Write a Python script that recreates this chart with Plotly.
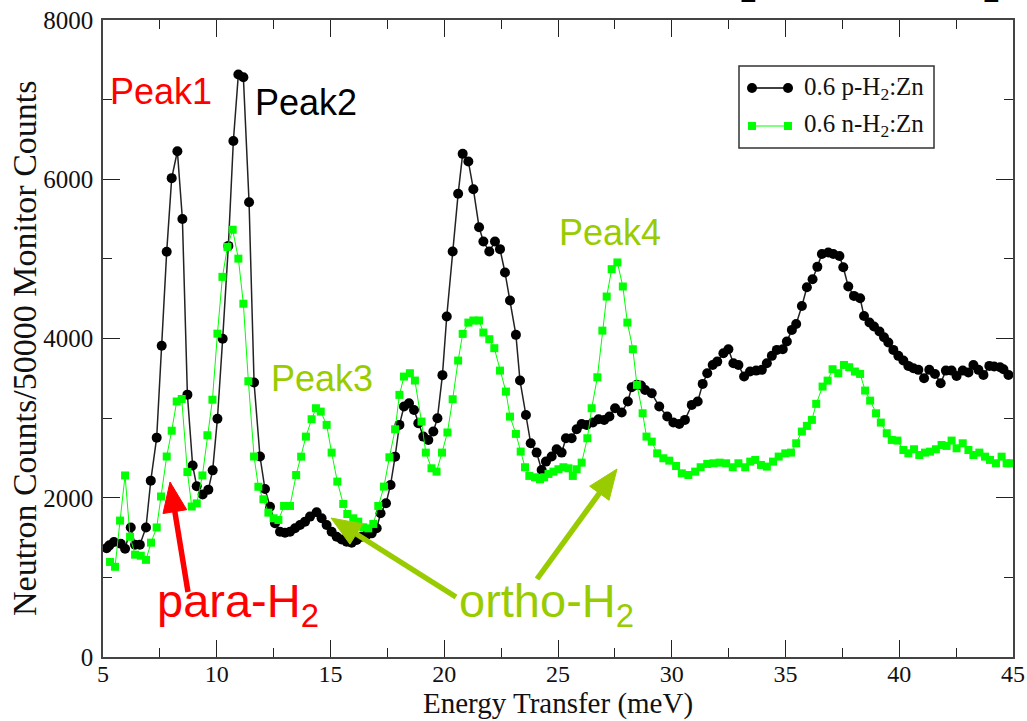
import math
import plotly.graph_objects as go

# Energy transfer (meV) and counts for 0.6 p-H2:Zn
para_energy = [5.16, 5.28, 5.48, 5.78, 5.97, 6.22, 6.41, 6.62, 6.89, 7.10, 7.36, 7.58, 7.80, 8.02,
               8.27, 8.49, 8.71, 8.94, 9.12, 9.38, 9.63, 9.82, 10.03, 10.26, 10.51, 10.73, 10.95,
               11.17, 11.42, 11.64, 11.90, 12.12, 12.34, 12.56, 12.78, 13.00, 13.22, 13.44, 13.66,
               13.88, 14.10, 14.39, 14.61, 14.83, 15.05, 15.27, 15.49, 15.71, 15.93, 16.15, 16.37,
               16.59, 16.81, 17.03, 17.20, 17.44, 17.64, 17.84, 18.03, 18.23, 18.45, 18.67, 18.86,
               19.08, 19.30, 19.52, 19.70, 19.92, 20.11, 20.37, 20.61, 20.81, 21.06, 21.28, 21.53,
               21.72, 21.98, 22.23, 22.45, 22.67, 22.89, 23.15, 23.33, 23.59, 23.80, 24.06, 24.28,
               24.47, 24.72, 24.94, 25.16, 25.35, 25.60, 25.82, 26.04, 26.26, 26.53, 26.78, 27.03,
               27.26, 27.51, 27.80, 28.07, 28.24, 28.46, 28.65, 28.83, 29.12, 29.45, 29.80, 30.07,
               30.33, 30.58, 30.88, 31.14, 31.36, 31.56, 31.80, 32.00, 32.27, 32.49, 32.71, 32.93,
               33.18, 33.44, 33.71, 33.96, 34.18, 34.40, 34.62, 34.88, 35.06, 35.28, 35.47, 35.72,
               35.94, 36.19, 36.40, 36.60, 36.88, 37.10, 37.37, 37.54, 37.76, 38.01, 38.28, 38.45,
               38.69, 38.89, 39.13, 39.33, 39.52, 39.74, 39.96, 40.18, 40.40, 40.62, 40.84, 41.09,
               41.32, 41.57, 41.82, 42.05, 42.30, 42.52, 42.79, 43.04, 43.26, 43.48, 43.70, 43.96,
               44.17, 44.43, 44.58, 44.80]
para_counts = [1367, 1402, 1445, 1423, 1359, 1627, 1410, 1410, 1627, 2215, 2755, 3909, 5089, 6014,
               6352, 5500, 3295, 2405, 2145, 2042, 2102, 2344, 2993, 3996, 5163, 6481, 7316,
               7281, 5712, 3447, 2518, 2110, 1888, 1679, 1574, 1562, 1574, 1616, 1658,
               1700, 1763, 1817, 1742, 1658, 1574, 1511, 1477, 1448, 1436, 1469, 1511,
               1532, 1553, 1616, 1805, 1930, 2161, 2516, 2915, 3145, 3187, 3103, 2936,
               2768, 2726, 2831, 2999, 3540, 4276, 5092, 5817, 6319, 6223, 5875, 5398,
               5218, 5092, 5218, 5122, 4829, 4477, 4046, 3472, 3040, 2684, 2567, 2349,
               2454, 2517, 2609, 2567, 2747, 2747, 2860, 2927, 2915, 2944, 2986, 2978,
               3020, 3124, 3070, 3208, 3388, 3420, 3410, 3354, 3312, 3145, 3020, 2944,
               2927, 2978, 3166, 3208, 3430, 3564, 3668, 3710, 3815, 3865, 3689, 3668,
               3522, 3585, 3597, 3606, 3689, 3782, 3857, 3865, 3962, 4108, 4183, 4409,
               4644, 4745, 4900, 5062, 5079, 5062, 5037, 4895, 4652, 4535, 4505, 4283,
               4200, 4150, 4087, 4015, 3949, 3857, 3782, 3723, 3656, 3627, 3606, 3501,
               3606, 3555, 3438, 3597, 3597, 3530, 3597, 3572, 3668, 3606, 3543, 3656,
               3648, 3639, 3614, 3543]

# Energy transfer (meV) and counts for 0.6 n-H2:Zn
normal_energy = [5.31, 5.53, 5.75, 5.97, 6.19, 6.41, 6.66, 6.89, 7.11, 7.36, 7.55, 7.80, 8.02, 8.24,
                 8.46, 8.71, 8.90, 9.12, 9.37, 9.59, 9.81, 10.03, 10.25, 10.47, 10.70, 10.95, 11.17,
                 11.39, 11.64, 11.83, 12.05, 12.27, 12.50, 12.71, 12.96, 13.22, 13.49, 13.71, 13.92,
                 14.17, 14.36, 14.57, 14.83, 15.05, 15.30, 15.56, 15.74, 16.00, 16.22, 16.44, 16.66,
                 16.88, 17.10, 17.35, 17.59, 17.84, 18.03, 18.23, 18.49, 18.71, 19.00, 19.19, 19.44,
                 19.66, 19.90, 20.14, 20.37, 20.61, 20.81, 21.06, 21.28, 21.53, 21.72, 21.98, 22.20,
                 22.45, 22.71, 22.89, 23.15, 23.36, 23.55, 23.74, 23.99, 24.21, 24.39, 24.58, 24.80,
                 25.02, 25.24, 25.46, 25.65, 25.82, 26.04, 26.29, 26.48, 26.73, 26.95, 27.14, 27.36,
                 27.61, 27.85, 28.05, 28.29, 28.47, 28.72, 28.89, 29.12, 29.36, 29.63, 29.89, 30.19,
                 30.44, 30.73, 31.03, 31.27, 31.56, 31.83, 32.10, 32.39, 32.68, 32.93, 33.23, 33.45,
                 33.67, 33.92, 34.18, 34.45, 34.70, 34.99, 35.24, 35.47, 35.72, 35.94, 36.16, 36.35,
                 36.63, 36.85, 37.07, 37.32, 37.57, 37.80, 38.05, 38.28, 38.50, 38.72, 38.98, 39.19,
                 39.45, 39.67, 39.92, 40.18, 40.40, 40.65, 40.88, 41.13, 41.35, 41.61, 41.86, 42.08,
                 42.30, 42.52, 42.79, 43.04, 43.26, 43.52, 43.77, 43.99, 44.25, 44.50, 44.72, 44.90]
normal_counts = [1194, 1133, 1713, 2280, 1510, 1285, 1272, 1220, 1436, 1627, 2016, 2518, 2842, 3209,
                 3240, 2323, 1890, 1929, 2280, 2785, 3231, 4061, 4774, 5150, 5366, 5003, 4437,
                 3464, 2518, 2138, 1981, 1813, 1742, 1721, 1897, 1897, 2286, 2516, 2768,
                 2986, 3124, 3082, 2915, 2567, 2203, 1922, 1796, 1742, 1700, 1629, 1616,
                 1671, 1897, 2140, 2508, 2860, 3292, 3522, 3564, 3472, 2957, 2567, 2370,
                 2328, 2567, 2820, 3237, 3723, 4058, 4200, 4226, 4226, 4075, 3991, 3878,
                 3597, 3333, 3019, 2802, 2580, 2383, 2274, 2257, 2232, 2257, 2299, 2328,
                 2358, 2383, 2370, 2274, 2358, 2441, 2747, 3124, 3513, 4099, 4527, 4871,
                 4955, 4653, 4200, 3865, 3417, 3061, 2768, 2705, 2558, 2496, 2466, 2399,
                 2307, 2286, 2328, 2383, 2425, 2433, 2441, 2433, 2383, 2433, 2383, 2454,
                 2475, 2412, 2391, 2454, 2517, 2558, 2567, 2684, 2831, 2902, 2978, 3179,
                 3396, 3471, 3614, 3564, 3668, 3639, 3585, 3555, 3346, 3220, 3061, 2944,
                 2810, 2726, 2718, 2600, 2558, 2609, 2537, 2567, 2579, 2609, 2663, 2651,
                 2718, 2621, 2684, 2600, 2537, 2567, 2516, 2475, 2433, 2516, 2433, 2433]

series_names = ["0.6 p-H<sub>2</sub>:Zn", "0.6 n-H<sub>2</sub>:Zn"]
x_ticks = [5, 10, 15, 20, 25, 30, 35, 40, 45]
y_ticks = [0, 2000, 4000, 6000, 8000]
x_title = "Energy Transfer (meV)"
y_title = "Neutron Counts/50000 Monitor Counts"

RED = "#FF0000"
OLIVE = "#99CC00"
GREEN = "#00FF00"
SERIF = "Liberation Serif, Times New Roman, serif"
SANS = "Liberation Sans, Arial, sans-serif"

# plot frame in page pixels
PL, PR, PT, PB = 103, 1013, 20, 657
W, H = 1027, 721


def px(x):
    return (x - PL) / (PR - PL)


def py(y):
    return (PB - y) / (PB - PT)


fig = go.Figure()
fig.add_trace(go.Scatter(
    x=para_energy, y=para_counts, mode="lines+markers", name=series_names[0],
    line=dict(color="#222222", width=1.5),
    marker=dict(symbol="circle", size=10, color="black"),
    showlegend=False,
))
fig.add_trace(go.Scatter(
    x=normal_energy, y=normal_counts, mode="lines+markers", name=series_names[1],
    line=dict(color=GREEN, width=1),
    marker=dict(symbol="square", size=8, color=GREEN),
    showlegend=False,
))

axis_common = dict(
    showline=True, linecolor="#444444", linewidth=1.5, mirror="ticks",
    ticks="inside", ticklen=17, tickwidth=1.2, tickcolor="#222222",
    showgrid=False, zeroline=False, automargin=False,
    tickfont=dict(family=SERIF, size=24, color="#111111"),
)

fig.update_xaxes(
    range=[5, 45], tickvals=x_ticks, ticktext=[str(v) for v in x_ticks],
    minor=dict(dtick=2.5, tick0=5, ticks="inside", ticklen=9, tickwidth=1.2, tickcolor="#222222"),
    ticklabelstandoff=-6,
    **axis_common,
)
fig.update_yaxes(
    range=[0, 8000], tickvals=y_ticks, ticktext=[str(v) for v in y_ticks],
    minor=dict(dtick=1000, tick0=0, ticks="inside", ticklen=9, tickwidth=1.2, tickcolor="#222222"),
    ticklabelstandoff=3,
    tickfont=dict(family=SERIF, size=25, color="#111111"),
    **{k: v for k, v in axis_common.items() if k != "tickfont"},
)

annotations = []

# Axis titles
annotations.append(dict(
    text=x_title, xref="paper", yref="paper", x=px(558), y=py(721.5),
    xanchor="center", yanchor="bottom", showarrow=False,
    font=dict(family=SERIF, size=29, color="#111111"),
))
annotations.append(dict(
    text=y_title, xref="paper", yref="paper", x=px(24), y=py(348),
    xanchor="center", yanchor="middle", showarrow=False, textangle=-90,
    font=dict(family=SERIF, size=34, color="#111111"),
))


def label(text, x, y, color, size=36):
    annotations.append(dict(
        text=text, xref="paper", yref="paper", x=px(x), y=py(y),
        xanchor="center", yanchor="middle", showarrow=False,
        font=dict(family=SANS, size=size, color=color),
    ))


# Peak and isomer labels
label("Peak1", 161, 92, RED)
label("Peak2", 306, 103, "black")
label("Peak3", 322, 378, OLIVE)
label("Peak4", 610, 233, OLIVE)
label("para-H<sub>2</sub>", 238, 604, RED, size=47)
label("ortho-H<sub>2</sub>", 546, 604, OLIVE, size=47)

# Subscripts of the heading above the frame
for x in (748, 991):
    annotations.append(dict(
        text="2", xref="paper", yref="paper", x=px(x), y=py(10),
        xanchor="center", yanchor="bottom", showarrow=False,
        font=dict(family=SANS, size=30, color="black"),
    ))

# Legend text
legend_rows = [(88, series_names[0]), (126, series_names[1])]
for y, name in legend_rows:
    annotations.append(dict(
        text=name, xref="paper", yref="paper", x=px(802), y=py(y),
        xanchor="left", yanchor="middle", showarrow=False,
        font=dict(family=SERIF, size=25, color="#111111"),
    ))

shapes = []


def arrow(tail, tip, color, width=5.5, head_len=30, head_half=12):
    """Thick arrow drawn as a shaft line plus a filled triangular head."""
    dx, dy = tip[0] - tail[0], tip[1] - tail[1]
    n = math.hypot(dx, dy)
    ux, uy = dx / n, dy / n
    bx, by = tip[0] - ux * head_len, tip[1] - uy * head_len
    lx, ly = bx - uy * head_half, by + ux * head_half
    rx, ry = bx + uy * head_half, by - ux * head_half
    shapes.append(dict(type="line", xref="paper", yref="paper",
                       x0=px(tail[0]), y0=py(tail[1]),
                       x1=px(bx + ux * 2), y1=py(by + uy * 2),
                       line=dict(color=color, width=width), layer="above"))
    path = "M {:.5f},{:.5f} L {:.5f},{:.5f} L {:.5f},{:.5f} Z".format(
        px(tip[0]), py(tip[1]), px(lx), py(ly), px(rx), py(ry))
    shapes.append(dict(type="path", xref="paper", yref="paper", path=path,
                       fillcolor=color, line=dict(color=color, width=1), layer="above"))


arrow((188, 592), (170, 482), RED)
arrow((456, 597), (331, 518), OLIVE)
arrow((537, 579), (617, 469), OLIVE)

# Legend frame and samples
shapes.append(dict(type="rect", xref="paper", yref="paper",
                   x0=px(739), x1=px(934), y0=py(148), y1=py(66),
                   line=dict(color="#333333", width=1.5), fillcolor="white", layer="above"))
lx0, lx1 = px(752), px(788)
ly_black, ly_green = py(88), py(126)
shapes.append(dict(type="line", xref="paper", yref="paper", x0=lx0, x1=lx1, y0=ly_black, y1=ly_black,
                   line=dict(color="black", width=1.5), layer="above"))
shapes.append(dict(type="line", xref="paper", yref="paper", x0=lx0, x1=lx1, y0=ly_green, y1=ly_green,
                   line=dict(color=GREEN, width=1), layer="above"))
for lx in (lx0, lx1):
    shapes.append(dict(type="circle", xref="paper", yref="paper", xsizemode="pixel", ysizemode="pixel",
                       xanchor=lx, yanchor=ly_black, x0=-5, x1=5, y0=-5, y1=5,
                       fillcolor="black", line=dict(color="black", width=0), layer="above"))
    shapes.append(dict(type="rect", xref="paper", yref="paper", xsizemode="pixel", ysizemode="pixel",
                       xanchor=lx, yanchor=ly_green, x0=-4, x1=4, y0=-4, y1=4,
                       fillcolor=GREEN, line=dict(color=GREEN, width=0), layer="above"))

fig.update_layout(
    width=W, height=H,
    margin=dict(l=PL, r=W - PR, t=PT, b=H - PB),
    paper_bgcolor="white", plot_bgcolor="white",
    annotations=annotations, shapes=shapes,
    showlegend=False,
)

fig.write_html("out.html")
